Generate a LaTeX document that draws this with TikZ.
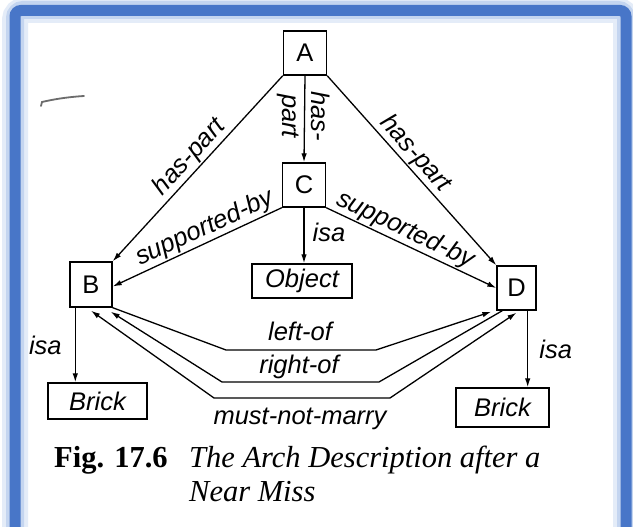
\documentclass[tikz,border=0pt]{standalone}
\usepackage{fontspec}
\setmainfont{Liberation Serif}
\setsansfont{Liberation Sans}
\usetikzlibrary{arrows.meta,calc}
\definecolor{framecol}{RGB}{72,118,200}
\definecolor{glowcol}{RGB}{150,180,230}
\tikzset{
  box/.style={draw, line width=1.4pt, inner sep=0pt, font=\sffamily\fontsize{25.5}{30}\selectfont},
  ibox/.style={box, font=\sffamily\itshape\fontsize{25.5}{30}\selectfont},
  lbl/.style={inner sep=1pt, font=\sffamily\itshape\fontsize{25.5}{30}\selectfont},
  conn/.style={line width=1.3pt, -{Latex[length=9pt,width=5.5pt]}},
  conn2/.style={line width=1.3pt, {Latex[length=9pt,width=5.5pt]}-{Latex[length=9pt,width=5.5pt]}},
  captext/.style={inner sep=0pt, anchor=base west}
}
\begin{document}
\begin{tikzpicture}[x=1pt,y=-1pt]
\useasboundingbox (0,0) rectangle (633,527);
\clip (0,0) rectangle (633,527);
\fill[white] (0,0) rectangle (633,527);
% frame with glow
\draw[glowcol, opacity=0.25, line width=26, rounded corners=10] (15,560) -- (15,10) -- (626,10) -- (626,560);
\draw[glowcol, opacity=0.4, line width=18, rounded corners=8] (15,560) -- (15,10) -- (626,10) -- (626,560);
\draw[framecol, line width=11, rounded corners=6] (15,560) -- (15,10.5) -- (626,10.5) -- (626,560);
% scan smudge
\draw[gray!85!black, line width=1.8pt, line cap=round] (41,106) -- (42,102) .. controls (55,99) and (68,97) .. (84,96);

% nodes
\node[box, minimum width=43, minimum height=44] (A) at (305,53) {A};
\node[box, minimum width=43, minimum height=44] (C) at (304,185) {C};
\node[box, minimum width=42, minimum height=45] (B) at (91,284.5) {B};
\node[box, minimum width=39, minimum height=44] (D) at (516.5,288) {D};
\node[ibox, minimum width=100, minimum height=34] (O) at (302,281) {Object};
\node[ibox, minimum width=99, minimum height=36] (BL) at (97.5,401) {Brick};
\node[ibox, minimum width=93, minimum height=39] (BR) at (502.5,407.5) {Brick};

% has-part edges
\draw[conn] (A.south west) -- node[lbl, sloped, above, pos=0.49] {has-part} (B.north east);
\draw[conn] (A.south east) -- node[lbl, sloped, above, pos=0.46] {has-part} (D.north west);
\draw[conn] (A.south) -- (C.north);
\node[lbl, rotate=-90] at (321,116) {has-};
\node[lbl, rotate=-90] at (288,116) {part};

% supported-by edges
\draw[conn] (C.south west) -- node[lbl, sloped, above, pos=0.42] {supported-by} ([yshift=-2]B.east);
\draw[conn] (C.south east) -- node[lbl, sloped, above, pos=0.43] {supported-by} (D.west);

% isa edges
\draw[conn] (C.south) -- node[lbl, right=7pt, pos=0.45] {isa} (C.south |- O.north);
\coordinate (bis) at ([xshift=6]B.south west);
\draw[conn] (bis) -- node[lbl, left=12pt, pos=0.5] {isa} (bis |- BL.north);
\coordinate (dis) at ([xshift=-9]D.south east);
\draw[conn] (dis) -- node[lbl, right=10pt, pos=0.5] {isa} (dis |- BR.north);

% relation polylines
\coordinate (l0) at (B.south east);
\coordinate (l3) at ([xshift=-5,yshift=-1]D.south west);
\draw[conn] (l0) -- (226,350) -- (376,350) -- (l3);
\coordinate (r0) at ([xshift=6]D.south west);
\coordinate (r3) at ([xshift=-2,yshift=-4]B.south east);
\draw[conn] (r0) -- (379,382) -- (222,382) -- (r3);
\coordinate (m0) at ([yshift=-3]B.south);
\coordinate (m3) at ([yshift=-2]D.south);
\draw[conn2] (m0) -- (214,398) -- (390,398) -- (m3);
\node[lbl] (lo) at (300,331) {left-of};
\node[lbl] (ro) at (299,367) {right-of};
\node[lbl] (mn) at (300,419) {must-not-marry};

% caption
\node[captext, font=\bfseries\fontsize{30.5}{34}\selectfont] (fig) at (54,467) {Fig. 17.6};
\node[captext, font=\itshape\fontsize{30.5}{34}\selectfont] (cap1) at (189,467) {The Arch Description after a};
\node[captext, font=\itshape\fontsize{30.5}{34}\selectfont] (cap2) at (189,501) {Near Miss};
\end{tikzpicture}
\end{document}
